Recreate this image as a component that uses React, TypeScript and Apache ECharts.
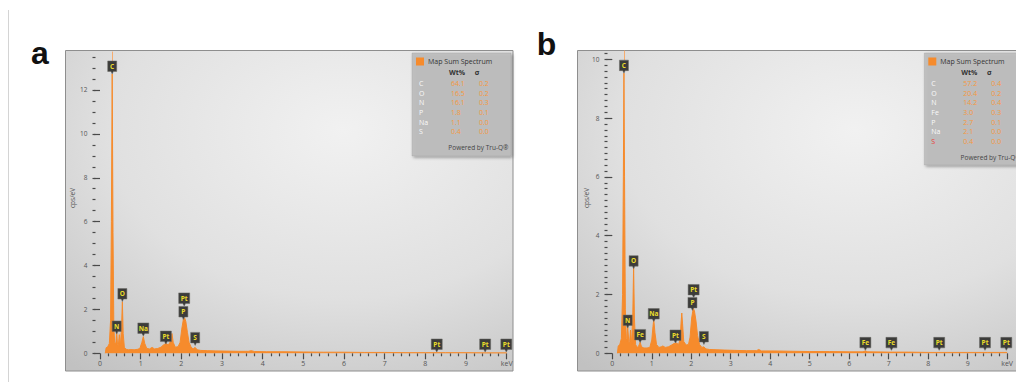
import React, { useEffect, useRef } from "react";
import * as echarts from "echarts";

// ---- Spectrum a (keV, cps/eV) ----
const energyA = [
  0.13, 0.15, 0.19, 0.23, 0.26, 0.28, 0.3, 0.32, 0.34, 0.36, 0.39, 0.41, 0.43, 0.45, 0.475, 0.5,
  0.53, 0.55, 0.57, 0.6, 0.65, 0.7, 0.76, 0.84, 0.92, 0.98, 1.03, 1.065, 1.1, 1.15, 1.22, 1.28,
  1.34, 1.42, 1.5, 1.56, 1.62, 1.68, 1.72, 1.75, 1.77, 1.8, 1.85, 1.92, 1.97, 2.01, 2.05, 2.08,
  2.11, 2.15, 2.19, 2.24, 2.29, 2.34, 2.39, 2.48, 2.65, 2.85, 3.1, 3.4, 3.65, 3.72, 3.8, 4.1,
  4.5, 5.0, 5.5, 6.0, 6.5, 7.0, 7.5, 8.0, 8.5, 9.0, 9.5, 10.0,
];
const countsA = [
  0, 0.25, 0.3, 0.45, 1.5, 6.0, 12.73, 5.5, 1.2, 0.5, 0.45, 0.98, 0.4, 0.35, 0.85, 0.3,
  1.2, 2.35, 0.9, 0.25, 0.18, 0.16, 0.17, 0.16, 0.18, 0.22, 0.5, 0.76, 0.45, 0.22, 0.2, 0.27,
  0.2, 0.22, 0.28, 0.38, 0.45, 0.38, 0.5, 0.8, 0.9, 0.5, 0.28, 0.3, 0.5, 1.1, 1.55, 1.62,
  1.45, 0.95, 0.5, 0.28, 0.2, 0.27, 0.16, 0.13, 0.12, 0.11, 0.1, 0.09, 0.09, 0.12, 0.08, 0.07,
  0.07, 0.06, 0.05, 0.05, 0.04, 0.04, 0.03, 0.03, 0.03, 0.03, 0.02, 0.02,
];

// ---- Spectrum b (keV, cps/eV) ----
const energyB = [
  0.13, 0.15, 0.19, 0.23, 0.26, 0.28, 0.295, 0.31, 0.33, 0.355, 0.37, 0.39, 0.42, 0.44, 0.46, 0.49,
  0.52, 0.54, 0.56, 0.59, 0.63, 0.67, 0.705, 0.74, 0.8, 0.88, 0.95, 1.0, 1.03, 1.05, 1.08, 1.12,
  1.18, 1.24, 1.28, 1.34, 1.42, 1.5, 1.56, 1.62, 1.68, 1.72, 1.74, 1.76, 1.78, 1.81, 1.87, 1.93,
  1.97, 2.01, 2.05, 2.08, 2.12, 2.16, 2.21, 2.27, 2.32, 2.37, 2.46, 2.65, 2.85, 3.1, 3.4, 3.65,
  3.71, 3.78, 4.1, 4.5, 5.0, 5.5, 6.0, 6.35, 6.41, 6.47, 7.0, 7.5, 8.0, 8.5, 9.0, 9.5, 10.0,
];
const countsB = [
  0, 0.25, 0.3, 0.5, 2.0, 6.0, 9.53, 6.0, 1.5, 0.5, 0.4, 0.9, 0.35, 0.4, 0.79, 0.3,
  1.4, 2.95, 1.2, 0.3, 0.2, 0.25, 0.38, 0.22, 0.18, 0.18, 0.2, 0.45, 0.9, 1.15, 0.7, 0.3,
  0.2, 0.22, 0.25, 0.2, 0.22, 0.28, 0.33, 0.35, 0.3, 0.5, 1.0, 1.37, 1.0, 0.4, 0.28, 0.3,
  0.55, 1.2, 1.53, 1.45, 1.1, 0.6, 0.3, 0.2, 0.22, 0.15, 0.13, 0.12, 0.11, 0.1, 0.09, 0.09,
  0.13, 0.08, 0.08, 0.07, 0.06, 0.06, 0.05, 0.05, 0.08, 0.05, 0.04, 0.04, 0.03, 0.03, 0.03, 0.03, 0.03,
];

// ---- Peak identification tags ----
const peakNamesA = ["C", "N", "O", "Na", "Pt", "P", "Pt", "S", "Pt", "Pt", "Pt"];
const peakEnergyA = [0.3, 0.41, 0.55, 1.065, 1.62, 2.05, 2.07, 2.34, 8.28, 9.47, 9.99];
const peakLevelA = [12.73, 0.88, 2.36, 0.79, 0.42, 1.54, 2.16, 0.36, 0.06, 0.06, 0.06];

const peakNamesB = ["C", "N", "O", "Fe", "Na", "Pt", "P", "Pt", "S", "Fe", "Fe", "Pt", "Pt", "Pt"];
const peakEnergyB = [0.295, 0.39, 0.54, 0.705, 1.05, 1.6, 2.03, 2.06, 2.32, 6.41, 7.07, 8.28, 9.44, 9.98];
const peakLevelB = [9.53, 0.86, 2.88, 0.37, 1.08, 0.35, 1.46, 1.9, 0.3, 0.1, 0.1, 0.1, 0.1, 0.1];

// ---- Quantification tables ----
const quantElementsA = ["C", "O", "N", "P", "Na", "S"];
const quantWtA = ["64.1", "16.5", "16.1", "1.8", "1.1", "0.4"];
const quantSigmaA = ["0.2", "0.2", "0.3", "0.1", "0.0", "0.0"];

const quantElementsB = ["C", "O", "N", "Fe", "P", "Na", "S"];
const quantWtB = ["57.2", "20.4", "14.2", "3.0", "2.7", "2.1", "0.4"];
const quantSigmaB = ["0.4", "0.2", "0.4", "0.3", "0.1", "0.0", "0.0"];
const highlightB = ["S"];

// ---- Axis ticks ----
const yMajorTicksA = [0, 2, 4, 6, 8, 10, 12];
const yMajorTicksB = [0, 2, 4, 6, 8, 10];
const yMinorStepA = 0.5;
const yMinorStepB = 0.2;
const xMaxLabel = "keV";

const ORANGE = "#f68b2c";
const VALUE_ORANGE = "#f5983f";
const FONT = "'Open Sans', 'Noto Sans', sans-serif";
const PIN = "path://M0,0 L10,0 L10,10.5 L6.3,10.5 L5,13 L3.7,10.5 L0,10.5 Z";
const PIN_H = 13;

type Panel = {
  gridLeft: number;
  gridTop: number;
  gridWidth: number;
  gridHeight: number;
  yMax: number;
  yOffset: number;
  frame: [number, number, number, number];
  legend: [number, number, number, number];
  letter: string;
  letterPos: [number, number];
  yNamePos: [number, number];
};

const panelA: Panel = {
  gridLeft: 100,
  gridTop: 51.6,
  gridWidth: 406.7,
  gridHeight: 301.7,
  yMax: 13.75,
  yOffset: 4.5,
  frame: [65.5, 50.5, 447.5, 320.5],
  legend: [412, 53, 99, 103],
  letter: "a",
  letterPos: [40, 53],
  yNamePos: [72.5, 198],
};

const panelB: Panel = {
  gridLeft: 612.3,
  gridTop: 50.5,
  gridWidth: 406.7,
  gridHeight: 302.8,
  yMax: 10.3,
  yOffset: 4.8,
  frame: [577.5, 50.5, 447.5, 320.5],
  legend: [924.3, 53, 99, 112],
  letter: "b",
  letterPos: [546.5, 44],
  yNamePos: [586, 198],
};

function minorTicks(step: number, max: number): number[] {
  const out: number[] = [];
  for (let k = 0; k * step <= max + 1e-9; k++) out.push(+(k * step).toFixed(3));
  return out;
}

function xAxisFor(idx: number) {
  return {
    type: "value",
    gridIndex: idx,
    position: "bottom",
    min: 0,
    max: 10,
    interval: 1,
    offset: 1,
    axisLine: { show: false },
    splitLine: { show: false },
    axisTick: { show: true, length: 6, lineStyle: { color: "#4a4a4a", width: 1.2 } },
    minorTick: { show: true, splitNumber: 5, length: 3, lineStyle: { color: "#4a4a4a", width: 1.2 } },
    minorSplitLine: { show: false },
    axisLabel: {
      color: "#555",
      fontSize: 7,
      fontFamily: FONT,
      margin: 6,
      formatter: (v: number) => (v === 10 ? xMaxLabel : String(v)),
    },
  };
}

function yAxesFor(idx: number, p: Panel, major: number[], minorStep: number) {
  const base = {
    type: "value",
    gridIndex: idx,
    position: "left",
    min: 0,
    max: p.yMax,
    offset: p.yOffset,
    axisLine: { show: false },
    splitLine: { show: false },
  };
  return [
    {
      ...base,
      interval: 2,
      axisTick: { show: true, length: 6, customValues: major, lineStyle: { color: "#4a4a4a", width: 1.2 } },
      axisLabel: { customValues: major, color: "#555", fontSize: 6.5, fontFamily: FONT, margin: 8 },
    },
    {
      ...base,
      interval: minorStep,
      axisTick: {
        show: true,
        length: 3,
        customValues: minorTicks(minorStep, p.yMax),
        lineStyle: { color: "#4a4a4a", width: 1.2 },
      },
      axisLabel: { show: false },
    },
  ];
}

function spectrumSeries(
  idx: number,
  p: Panel,
  energy: number[],
  counts: number[],
  names: string[],
  energies: number[],
  levels: number[]
) {
  const pxPerUnit = p.gridHeight / p.yMax;
  return {
    type: "line",
    xAxisIndex: idx,
    yAxisIndex: idx * 2,
    data: energy.map((e, i) => [e, counts[i]]),
    symbol: "none",
    silent: true,
    z: 3,
    lineStyle: { color: ORANGE, width: 1 },
    areaStyle: { color: ORANGE, opacity: 1 },
    markLine: {
      silent: true,
      symbol: ["none", "none"],
      label: { show: false },
      lineStyle: { color: "#f7a663", width: 1, type: "solid", opacity: 0.9 },
      data: [
        [
          { coord: [energies[0], levels[0] + PIN_H / pxPerUnit] },
          { coord: [energies[0], p.yMax] },
        ],
      ],
    },
    markPoint: {
      silent: true,
      symbol: PIN,
      symbolOffset: [0, -PIN_H / 2],
      itemStyle: { color: "#3c3c3a", borderColor: "#6a6a66", borderWidth: 0.5 },
      label: {
        show: true,
        position: "inside",
        formatter: "{b}",
        color: "#ebde2c",
        fontSize: 6.5,
        fontWeight: "bold",
        fontFamily: FONT,
        offset: [0, -1.2],
      },
      data: names.map((n, i) => ({
        name: n,
        coord: [energies[i], levels[i]],
        symbolSize: [n.length > 1 ? 11 : 9, PIN_H],
      })),
    },
  };
}

function panelGraphics(p: Panel, elements: string[], wt: string[], sigma: string[], red: string[]) {
  const [fx, fy, fw, fh] = p.frame;
  const [lx, ly, lw, lh] = p.legend;
  const rowY = (i: number) => ly + 30.5 + i * 9.65;
  const g: any[] = [
    {
      type: "rect",
      z: -10,
      silent: true,
      shape: { x: fx, y: fy, width: fw, height: fh },
      style: {
        fill: {
          type: "radial",
          x: 0.62,
          y: 0.25,
          r: 0.95,
          colorStops: [
            { offset: 0, color: "#f1f1f1" },
            { offset: 0.55, color: "#e0e0e0" },
            { offset: 1, color: "#c1c1c1" },
          ],
        },
        stroke: "#8e8e8e",
        lineWidth: 1,
      },
    },
    {
      type: "text",
      z: 10,
      x: p.letterPos[0],
      y: p.letterPos[1],
      style: {
        text: p.letter,
        fill: "#111",
        fontSize: 32,
        fontWeight: "bold",
        fontFamily: "'Liberation Sans', Arial, sans-serif",
        align: "center",
        verticalAlign: "middle",
      },
    },
    {
      type: "text",
      z: 10,
      x: p.yNamePos[0],
      y: p.yNamePos[1],
      rotation: Math.PI / 2,
      style: {
        text: "cps/eV",
        fill: "#555",
        fontSize: 6.5,
        fontFamily: FONT,
        align: "center",
        verticalAlign: "middle",
      },
    },
    {
      type: "rect",
      z: 20,
      silent: true,
      shape: { x: lx, y: ly, width: lw, height: lh },
      style: {
        fill: "rgba(188,188,188,0.9)",
        stroke: "rgba(150,150,150,0.6)",
        lineWidth: 0.5,
        shadowBlur: 3,
        shadowOffsetX: 1.5,
        shadowOffsetY: 1.5,
        shadowColor: "rgba(0,0,0,0.4)",
      },
    },
    {
      type: "rect",
      z: 21,
      shape: { x: lx + 4, y: ly + 4.5, width: 8, height: 8 },
      style: { fill: ORANGE },
    },
    {
      type: "text",
      z: 21,
      x: lx + 16,
      y: ly + 8.5,
      style: { text: "Map Sum Spectrum", fill: "#333", fontSize: 7, fontFamily: FONT, verticalAlign: "middle" },
    },
    {
      type: "text",
      z: 21,
      x: lx + 45,
      y: ly + 19.5,
      style: {
        text: "Wt%",
        fill: "#333",
        fontSize: 7,
        fontWeight: "bold",
        fontFamily: FONT,
        align: "center",
        verticalAlign: "middle",
      },
    },
    {
      type: "text",
      z: 21,
      x: lx + 65,
      y: ly + 19.5,
      style: {
        text: "σ",
        fill: "#333",
        fontSize: 7,
        fontWeight: "bold",
        fontFamily: FONT,
        align: "center",
        verticalAlign: "middle",
      },
    },
    {
      type: "text",
      z: 21,
      x: lx + 96.5,
      y: rowY(elements.length - 1) + 16,
      style: {
        text: "Powered by Tru-Q®",
        fill: "#444",
        fontSize: 6.5,
        fontFamily: FONT,
        align: "right",
        verticalAlign: "middle",
      },
    },
  ];
  elements.forEach((el, i) => {
    const y = rowY(i);
    g.push(
      {
        type: "text",
        z: 21,
        x: lx + 7,
        y,
        style: {
          text: el,
          fill: red.includes(el) ? "#e8413a" : "#fafafa",
          fontSize: 7,
          fontFamily: FONT,
          verticalAlign: "middle",
        },
      },
      {
        type: "text",
        z: 21,
        x: lx + 39,
        y,
        style: { text: wt[i], fill: VALUE_ORANGE, fontSize: 7, fontFamily: FONT, verticalAlign: "middle" },
      },
      {
        type: "text",
        z: 21,
        x: lx + 67,
        y,
        style: { text: sigma[i], fill: VALUE_ORANGE, fontSize: 7, fontFamily: FONT, verticalAlign: "middle" },
      }
    );
  });
  return g;
}

export default function App() {
  const ref = useRef<HTMLDivElement>(null);

  useEffect(() => {
    if (!ref.current) return;
    const chart = echarts.init(ref.current, undefined, { renderer: "svg" });
    const [ya0, ya1] = yAxesFor(0, panelA, yMajorTicksA, yMinorStepA);
    const [yb0, yb1] = yAxesFor(1, panelB, yMajorTicksB, yMinorStepB);
    chart.setOption({
      animation: false,
      backgroundColor: "#ffffff",
      textStyle: { fontFamily: FONT },
      grid: [
        { left: panelA.gridLeft, top: panelA.gridTop, width: panelA.gridWidth, height: panelA.gridHeight },
        { left: panelB.gridLeft, top: panelB.gridTop, width: panelB.gridWidth, height: panelB.gridHeight },
      ],
      xAxis: [xAxisFor(0), xAxisFor(1)],
      yAxis: [ya0, ya1, yb0, yb1],
      series: [
        spectrumSeries(0, panelA, energyA, countsA, peakNamesA, peakEnergyA, peakLevelA),
        spectrumSeries(1, panelB, energyB, countsB, peakNamesB, peakEnergyB, peakLevelB),
      ],
      graphic: [
        {
          type: "line",
          z: -10,
          shape: { x1: 8.5, y1: 10, x2: 8.5, y2: 382 },
          style: { stroke: "#d4d4d4", lineWidth: 1 },
        },
        ...panelGraphics(panelA, quantElementsA, quantWtA, quantSigmaA, []),
        ...panelGraphics(panelB, quantElementsB, quantWtB, quantSigmaB, highlightB),
      ],
    });
    return () => chart.dispose();
  }, []);

  return (
    <div
      ref={ref}
      style={{ position: "fixed", left: 0, top: 0, width: 1016, height: 382, background: "#fff" }}
    />
  );
}
